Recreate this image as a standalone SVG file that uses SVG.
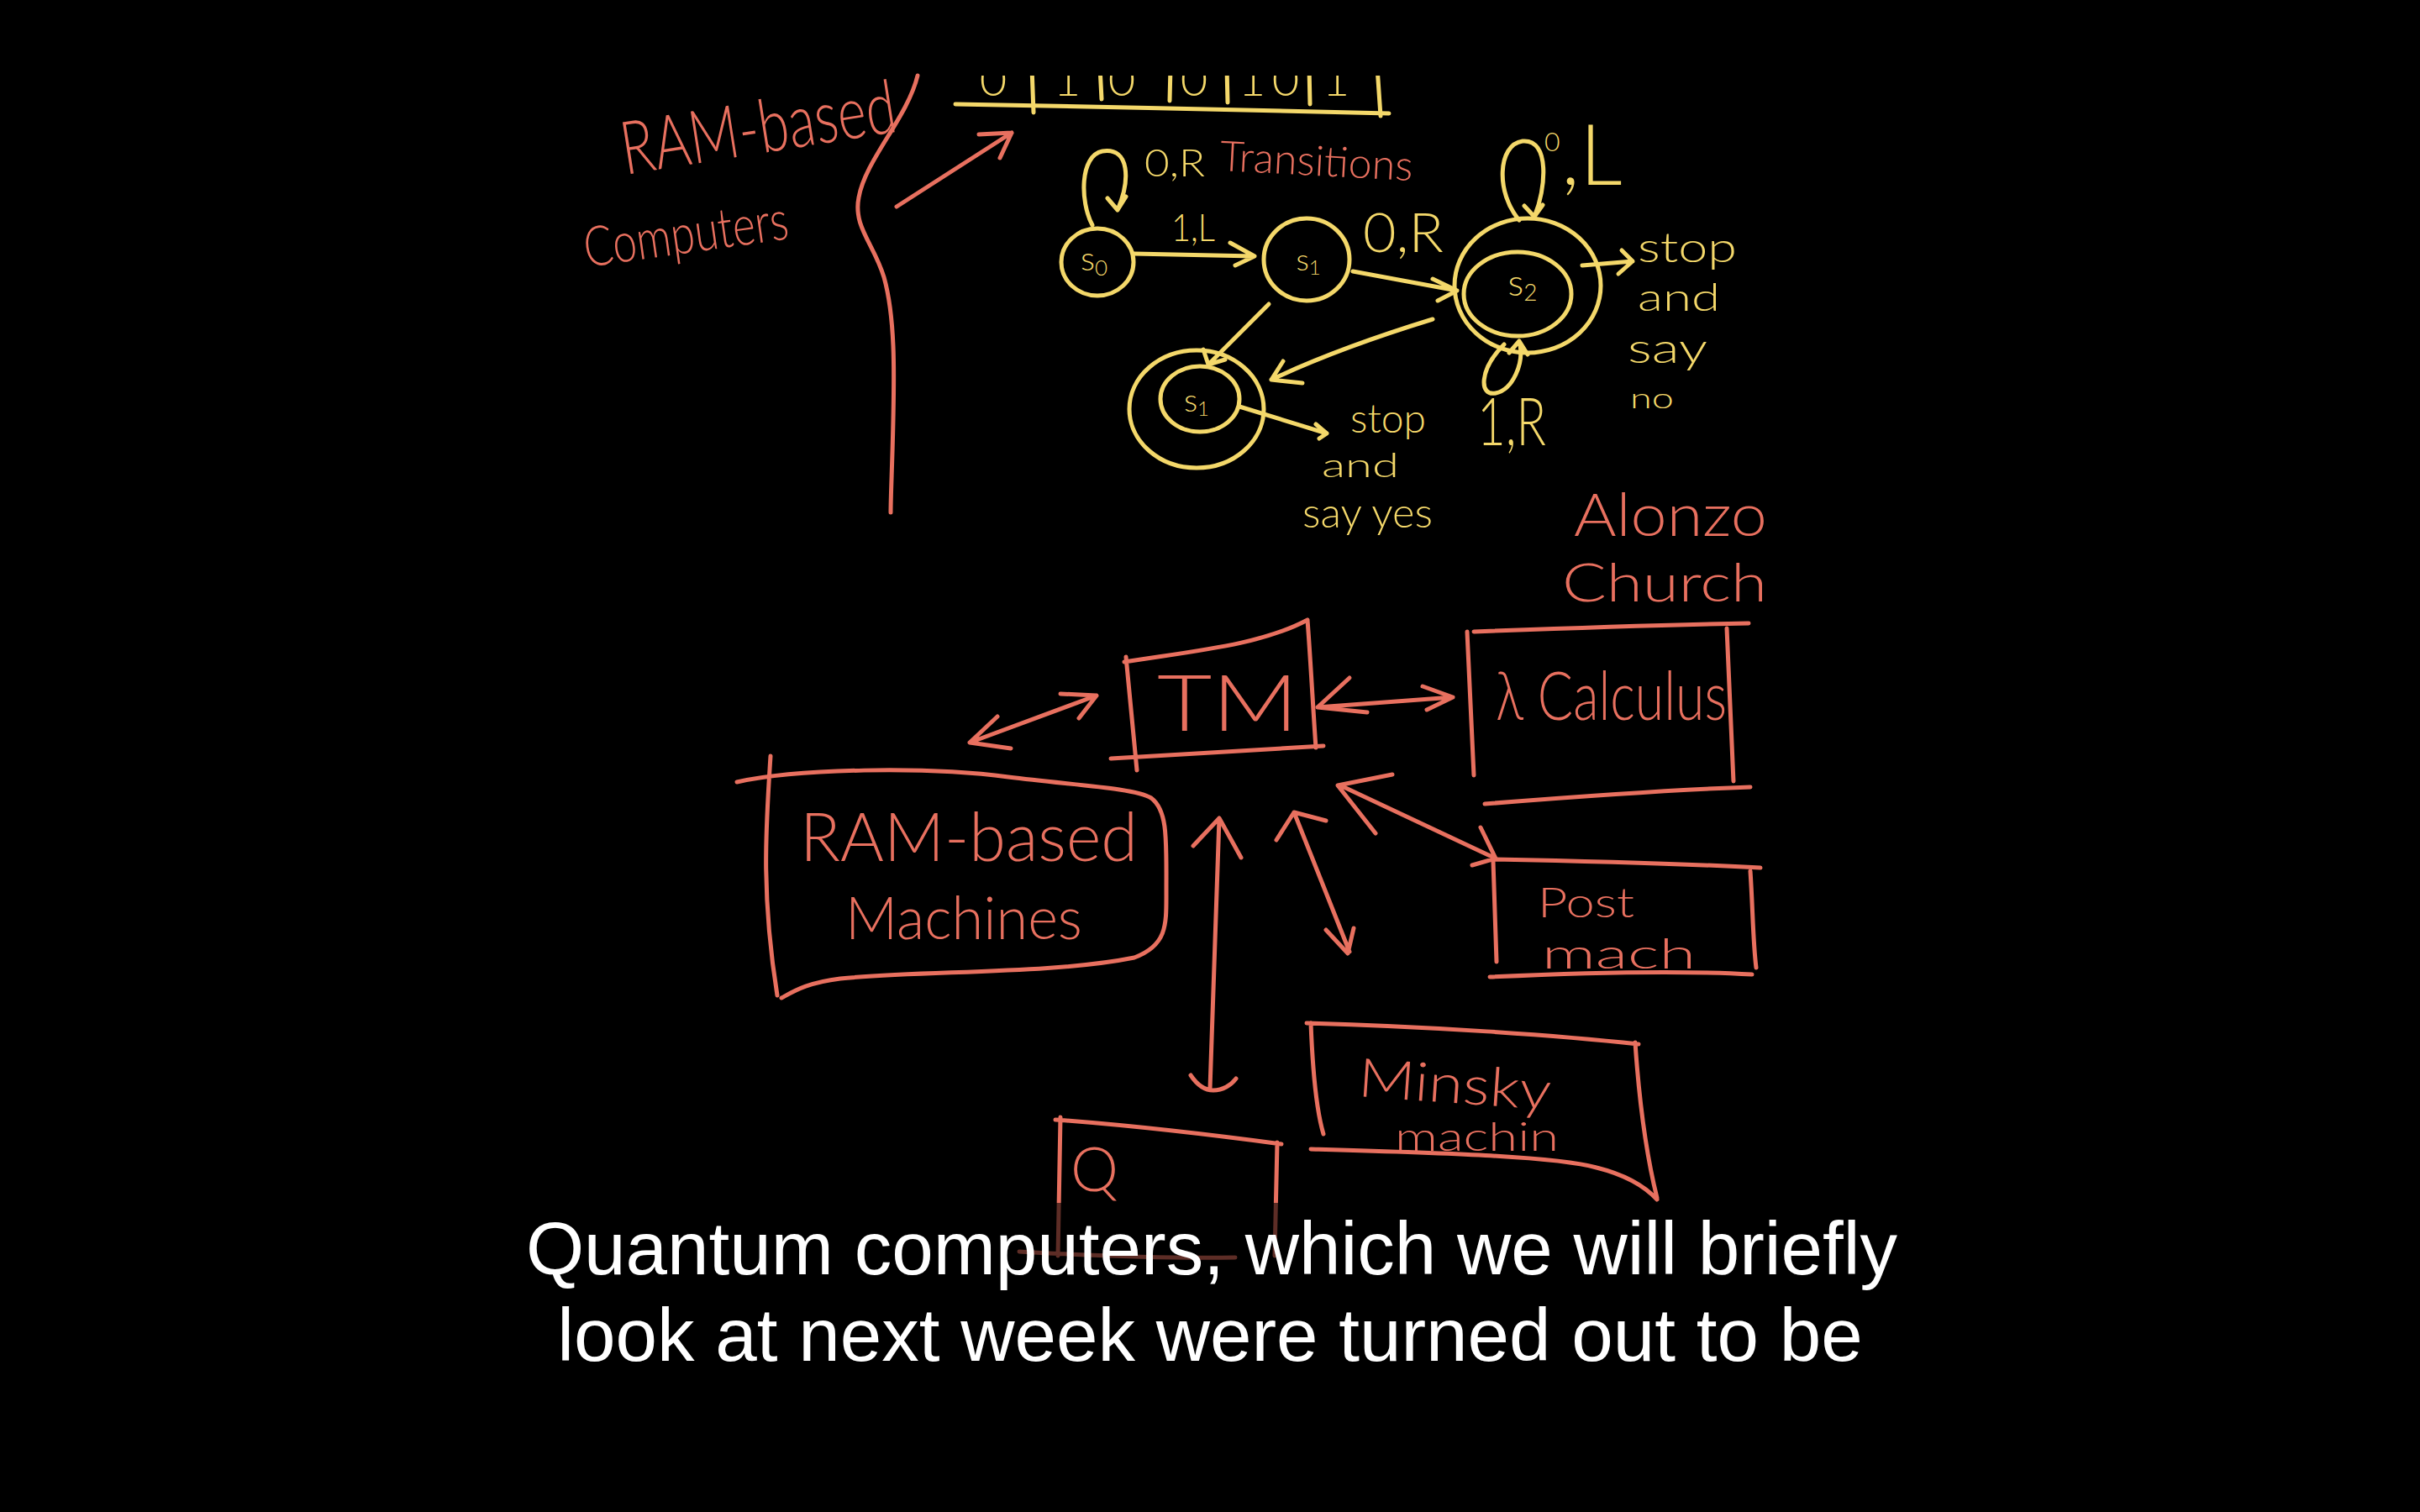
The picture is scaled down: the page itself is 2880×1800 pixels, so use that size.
<svg xmlns="http://www.w3.org/2000/svg" width="2880" height="1800" viewBox="0 0 2880 1800">
<defs>
<style>
.r{stroke:#E8705F;fill:none;stroke-width:5;stroke-linecap:round;stroke-linejoin:round}
.y{stroke:#F4D86A;fill:none;stroke-width:5;stroke-linecap:round;stroke-linejoin:round}
.rt{fill:#E8705F;font-family:Lato,"Liberation Sans",sans-serif;font-weight:300}
.yt{fill:#F4D86A;font-family:Lato,"Liberation Sans",sans-serif;font-weight:300}
.sub{fill:#FFFFFF;font-family:"Liberation Sans",Arial,sans-serif;font-size:89px;text-anchor:middle}
</style>
<clipPath id="top"><rect x="0" y="90" width="2880" height="1710"/></clipPath>
</defs>
<rect width="2880" height="1800" fill="#000"/>

<g id="ram-computers-note">
<text class="rt" x="744" y="208" font-size="88" textLength="330" lengthAdjust="spacingAndGlyphs" transform="rotate(-9 744 208)">RAM-based</text>
<text class="rt" x="698" y="318" font-size="66" textLength="245" lengthAdjust="spacingAndGlyphs" transform="rotate(-8 698 318)">Computers</text>
<path class="r" d="M1092,90 C1080,140 1030,190 1022,235 C1015,270 1040,290 1052,330 C1066,380 1064,450 1063,500 C1062,550 1060,590 1060,610"/>
</g>

<g id="tape" clip-path="url(#top)">
<path class="y" d="M1137,124 C1300,127 1500,131 1653,135"/>
<path class="y" d="M1228,80 L1230,134 M1309,80 L1311,118 M1393,80 L1392,120 M1460,80 L1461,122 M1558,80 L1559,124 M1639,80 L1643,138"/>
<g class="yt" font-size="56" text-anchor="middle">
<text x="1182" y="114">0</text><text x="1270" y="114">1</text><text x="1335" y="114">0</text><text x="1421" y="114">0</text><text x="1490" y="114">1</text><text x="1530" y="114">0</text><text x="1590" y="114">1</text>
</g>
</g>

<g id="transitions-label">
<text class="rt" x="1451" y="203" font-size="50" textLength="230" lengthAdjust="spacingAndGlyphs" transform="rotate(3 1451 203)">Transitions</text>
</g>

<g id="s0">
<ellipse class="y" cx="1306" cy="312" rx="43" ry="40"/>
<text class="yt" x="1302" y="322" font-size="40" text-anchor="middle">s<tspan font-size="26" dy="6">0</tspan></text>
</g>
<g id="s1">
<ellipse class="y" cx="1555" cy="309" rx="51" ry="49"/>
<text class="yt" x="1557" y="322" font-size="36" text-anchor="middle">s<tspan font-size="24" dy="5">1</tspan></text>
</g>
<g id="s2">
<ellipse class="y" cx="1818" cy="340" rx="87" ry="80"/>
<ellipse class="y" cx="1806" cy="350" rx="64" ry="50"/>
<text class="yt" x="1812" y="352" font-size="44" text-anchor="middle">s<tspan font-size="28" dy="6">2</tspan></text>
</g>
<g id="s3">
<ellipse class="y" cx="1424" cy="487" rx="80" ry="70"/>
<ellipse class="y" cx="1428" cy="475" rx="47" ry="39"/>
<text class="yt" x="1424" y="490" font-size="38" text-anchor="middle">s<tspan font-size="24" dy="5">1</tspan></text>
</g>
<g id="stop-no">
<text class="yt" x="1949" y="312" font-size="50" textLength="118" lengthAdjust="spacingAndGlyphs">stop</text>
<text class="yt" x="1949" y="370" font-size="46" textLength="98" lengthAdjust="spacingAndGlyphs">and</text>
<text class="yt" x="1937" y="432" font-size="50" textLength="95" lengthAdjust="spacingAndGlyphs">say</text>
<text class="yt" x="1940" y="486" font-size="34" textLength="52" lengthAdjust="spacingAndGlyphs">no</text>
</g>
<g id="stop-yes">
<text class="yt" x="1607" y="515" font-size="48" textLength="90" lengthAdjust="spacingAndGlyphs">stop</text>
<text class="yt" x="1573" y="568" font-size="40" textLength="92" lengthAdjust="spacingAndGlyphs">and</text>
<text class="yt" x="1550" y="628" font-size="50" textLength="155" lengthAdjust="spacingAndGlyphs">say yes</text>
</g>

<g id="alonzo-church">
<text class="rt" x="1873" y="638" font-size="70" textLength="230" lengthAdjust="spacingAndGlyphs">Alonzo</text>
<text class="rt" x="1859" y="716" font-size="64" textLength="244" lengthAdjust="spacingAndGlyphs">Church</text>
</g>

<g id="tm">
<path class="r" d="M1338,788 C1420,775 1500,768 1556,738 M1556,738 C1560,790 1563,850 1566,890 M1322,903 L1575,888 M1340,782 L1353,917"/>
<text class="rt" x="1377" y="870" font-size="92" textLength="168" lengthAdjust="spacingAndGlyphs">TM</text>
</g>
<g id="lambda-calculus">
<path class="r" d="M1746,752 L1754,923 M1754,752 C1860,748 1980,744 2081,742 M2055,748 C2058,810 2060,870 2063,930 M1767,957 C1880,948 1990,940 2083,937"/>
<text class="rt" x="1780" y="857" font-size="80" textLength="275" lengthAdjust="spacingAndGlyphs">λ Calculus</text>
</g>
<g id="ram-machines">
<path class="r" d="M877,931 C950,915 1100,912 1200,925 C1280,935 1350,938 1370,950 C1390,965 1388,1000 1388,1060 C1388,1100 1390,1125 1350,1140 C1250,1160 1100,1155 1000,1165 C960,1170 945,1180 930,1188 M917,900 C912,980 905,1060 925,1185"/>
<text class="rt" x="952" y="1025" font-size="80" textLength="402" lengthAdjust="spacingAndGlyphs">RAM-based</text>
<text class="rt" x="1006" y="1118" font-size="70" textLength="282" lengthAdjust="spacingAndGlyphs">Machines</text>
</g>
<g id="post-machine">
<path class="r" d="M1778,1023 C1880,1025 2000,1028 2095,1033 M1777,1025 L1781,1145 M2083,1037 C2086,1080 2086,1120 2090,1152 M1773,1163 C1880,1158 2000,1155 2085,1160"/>
<text class="rt" x="1830" y="1092" font-size="50" textLength="115" lengthAdjust="spacingAndGlyphs">Post</text>
<text class="rt" x="1835" y="1153" font-size="50" textLength="183" lengthAdjust="spacingAndGlyphs">mach</text>
</g>
<g id="minsky-machine">
<path class="r" d="M1555,1218 C1700,1222 1850,1232 1950,1243 M1560,1218 C1562,1270 1566,1320 1575,1350 M1946,1241 C1950,1300 1958,1370 1972,1426 M1560,1368 C1700,1372 1850,1376 1900,1390 C1940,1400 1960,1415 1972,1428"/>
<text class="rt" x="1615" y="1305" font-size="64" textLength="230" lengthAdjust="spacingAndGlyphs" transform="rotate(4 1615 1305)">Minsky</text>
<text class="rt" x="1660" y="1370" font-size="48" textLength="195" lengthAdjust="spacingAndGlyphs">machin</text>
</g>
<g id="quantum">
<path class="r" d="M1256,1333 C1350,1340 1450,1352 1525,1362 M1262,1330 L1259,1495 M1520,1360 L1517,1495 M1213,1490 C1300,1495 1400,1498 1470,1497"/>
<text class="rt" x="1274" y="1418" font-size="72">Q</text>
</g>

<g id="connectors">
<path class="r" d="M1067,246 L1204,158 M1165,160 L1204,158 L1190,188"/>
<path class="y" d="M1300,268 C1285,240 1285,185 1312,180 C1345,175 1345,215 1330,250 M1318,236 L1330,250 L1340,234"/>
<path class="y" d="M1349,302 L1493,305 M1464,289 L1493,305 L1470,316"/>
<path class="y" d="M1610,323 L1734,346 M1705,332 L1734,346 L1711,358"/>
<path class="y" d="M1510,362 L1438,434 M1432,416 L1438,434 L1458,428"/>
<path class="y" d="M1705,380 C1640,400 1570,425 1513,452 M1527,430 L1513,452 L1550,456"/>
<path class="y" d="M1475,484 L1579,516 M1566,505 L1579,516 L1570,522"/>
<path class="y" d="M1883,316 L1943,311 M1930,298 L1943,311 L1926,326"/>
<path class="y" d="M1808,262 C1780,230 1782,172 1812,168 C1845,165 1840,225 1826,258 M1814,245 L1826,258 L1836,244"/>
<path class="y" d="M1790,410 C1760,440 1760,472 1780,468 C1800,464 1815,432 1808,406 M1796,420 L1808,406 L1818,422"/>
<path class="r" d="M1154,884 L1305,828 M1187,853 L1154,884 L1203,891 M1262,826 L1305,828 L1284,855"/>
<path class="r" d="M1568,842 L1729,830 M1606,807 L1568,842 L1627,848 M1693,817 L1729,830 L1698,845"/>
<path class="r" d="M1595,935 L1780,1022 M1657,922 L1592,935 L1637,992 M1762,985 L1780,1022 L1752,1030"/>
<path class="r" d="M1540,967 L1606,1133 M1519,1000 L1540,967 L1578,977 M1578,1107 L1604,1135 L1611,1105"/>
<path class="r" d="M1451,974 L1440,1296 M1420,1007 L1451,974 L1477,1021 M1417,1280 C1425,1292 1435,1298 1444,1298 C1455,1298 1465,1292 1471,1284"/>
</g>

<g id="edge-labels">
<text class="yt" x="1362" y="210" font-size="46" textLength="72" lengthAdjust="spacingAndGlyphs">0,R</text>
<text class="yt" x="1394" y="287" font-size="46" textLength="52" lengthAdjust="spacingAndGlyphs">1,L</text>
<text class="yt" x="1622" y="300" font-size="66" textLength="96" lengthAdjust="spacingAndGlyphs">0,R</text>
<text class="yt" x="1838" y="180" font-size="32">0</text>
<text class="yt" x="1858" y="220" font-size="100">,L</text>
<text class="yt" x="1758" y="530" font-size="78" textLength="82" lengthAdjust="spacingAndGlyphs">1,R</text>
</g>

<rect x="600" y="1432" width="1680" height="220" fill="#000" fill-opacity="0.6"/>
<g id="subtitle">
<text class="sub" x="1442" y="1517">Quantum computers, which we will briefly</text>
<text class="sub" x="1440" y="1620">look at next week were turned out to be</text>
</g>
</svg>
